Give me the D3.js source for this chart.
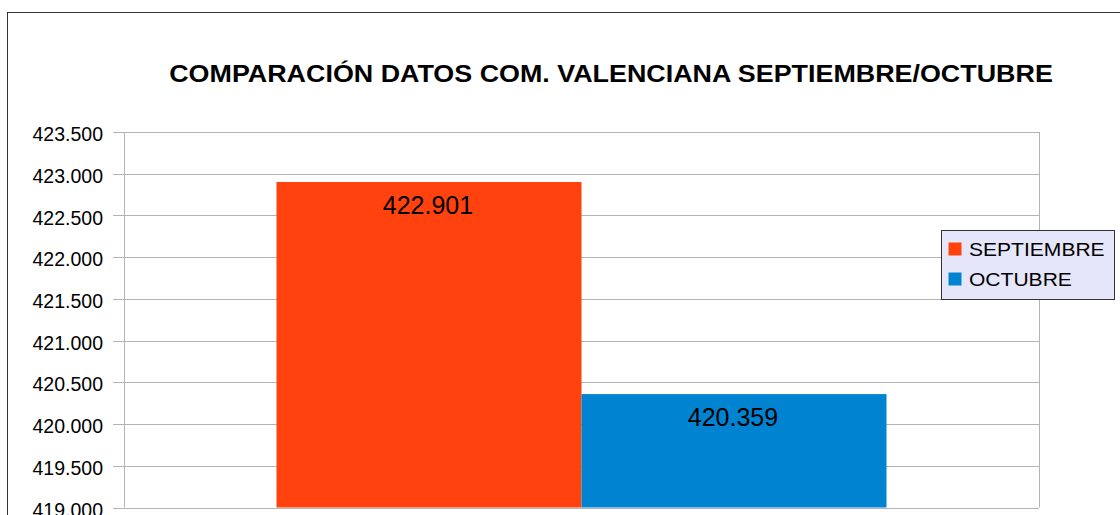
<!DOCTYPE html>
<html>
<head>
<meta charset="utf-8">
<script src="https://cdn.jsdelivr.net/npm/d3@7"></script>
<style>
body{margin:0;background:#fff;}
svg{display:block;font-family:"Liberation Sans",Arial,sans-serif;}
</style>
</head>
<body>
<svg id="chart" width="1120" height="515"></svg>
<script>
// datos
var series = ["SEPTIEMBRE","OCTUBRE"];
var values = [422901, 420359];
var colors = ["#ff420e","#0084d1"];
var yTicks = [419000,419500,420000,420500,421000,421500,422000,422500,423000,423500];
var title = "COMPARACIÓN DATOS COM. VALENCIANA SEPTIEMBRE/OCTUBRE";

var svg = d3.select("#chart");
var fmt = function(v){ return d3.format(",.0f")(v).replace(/,/g,"."); };

// estirar texto en horizontal (el original sale mas ancho)
function stretch(sel, k){
	sel.each(function(){
		var t = d3.select(this);
		var x0 = +t.attr("x"), y0 = +t.attr("y");
		t.attr("x",0).attr("y",0)
			.attr("transform","translate("+x0+","+y0+") scale("+k+",1)");
	});
}

// marco exterior
svg.append("rect")
	.attr("x",7.5).attr("y",12.5)
	.attr("width",1120).attr("height",520)
	.style("fill","none").style("stroke","#333").style("stroke-width",1);

var tt = svg.append("text")
	.attr("x",611).attr("y",82)
	.attr("text-anchor","middle")
	.style("font-size","23.5px").style("font-weight","bold")
	.text(title);
stretch(tt, 884/tt.node().getComputedTextLength());

var pLeft = 124, pRight = 1039, pTop = 132, pBottom = 507.5;
var y = d3.scaleLinear().domain([419000,423500]).range([pBottom,pTop]);
var x = d3.scaleBand().domain(["g"]).range([pLeft,pRight]).paddingInner(0).paddingOuter(0.25);
var xs = d3.scaleBand().domain(series).range([0,x.bandwidth()]);

// rejilla
svg.append("g").selectAll("line")
	.data(yTicks)
	.enter()
	.append("line")
	.attr("x1",pLeft-11).attr("x2",pRight)
	.attr("y1",d=>Math.round(y(d))+0.5).attr("y2",d=>Math.round(y(d))+0.5)
	.style("stroke","#b3b3b3").style("stroke-width",1);
svg.append("line")
	.attr("x1",pLeft+0.5).attr("x2",pLeft+0.5).attr("y1",pTop).attr("y2",pBottom)
	.style("stroke","#b3b3b3");
svg.append("line")
	.attr("x1",pRight+0.5).attr("x2",pRight+0.5).attr("y1",pTop).attr("y2",pBottom)
	.style("stroke","#b3b3b3");

// eje y
var yAxis = d3.axisLeft(y).tickValues(yTicks).tickSize(0).tickPadding(0).tickFormat(fmt);
var ga = svg.append("g").attr("transform","translate(103,0)").call(yAxis);
ga.select(".domain").remove();
ga.selectAll("text").style("font-size","19.5px").style("fill","#000")
	.attr("dy","0.44em")
	.style("font-family","'Liberation Sans',Arial,sans-serif");

// barras
svg.append("g").selectAll("rect")
	.data(values)
	.enter()
	.append("rect")
	.attr("x",(d,i)=>x("g")+xs(series[i]))
	.attr("y",d=>y(d))
	.attr("width",xs.bandwidth())
	.attr("height",d=>pBottom-y(d))
	.style("fill",(d,i)=>colors[i]);

svg.append("g").selectAll("text")
	.data(values)
	.enter()
	.append("text")
	.attr("x",(d,i)=>x("g")+xs(series[i])+xs.bandwidth()/2 - 1)
	.attr("y",d=>y(d)+32)
	.attr("text-anchor","middle")
	.style("font-size","25px")
	.text(fmt);

// leyenda
var lg = svg.append("g").attr("transform","translate(941,230)");
lg.append("rect")
	.attr("x",0.5).attr("y",0.5).attr("width",173).attr("height",69)
	.style("fill","#e6e6fa").style("stroke","#333");
series.forEach(function(s,i){
	lg.append("rect")
		.attr("x",7.5).attr("y",12.5+i*30).attr("width",13).attr("height",13)
		.style("fill",colors[i]);
	var lt = lg.append("text")
		.attr("x",28).attr("y",26+i*30)
		.style("font-size","17.7px")
		.text(s);
	stretch(lt, 1.19);
});
</script>
</body>
</html>
